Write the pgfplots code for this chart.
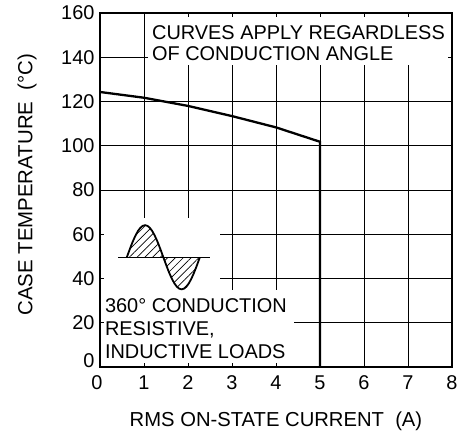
\documentclass[border=0pt]{standalone}
\usepackage{pgfplots}
\pgfplotsset{compat=1.18}
\usepackage{fontspec}
\setmainfont{Liberation Sans}
\usetikzlibrary{patterns.meta}
\pgfdeclarelayer{boxes}
\pgfplotsset{
 layers/mylayers/.define layer set={axis background,axis grid,boxes,axis ticks,axis lines,axis tick labels,main,axis descriptions,axis foreground}{
  grid style={/pgfplots/on layer=axis grid},
  tick style={/pgfplots/on layer=axis ticks},
  axis line style={/pgfplots/on layer=axis lines},
  label style={/pgfplots/on layer=axis descriptions},
  legend style={/pgfplots/on layer=axis descriptions},
  title style={/pgfplots/on layer=axis descriptions},
  colorbar style={/pgfplots/on layer=axis descriptions},
  ticklabel style={/pgfplots/on layer=axis tick labels},
  axis background@ style={/pgfplots/on layer=axis background},
  3d box foreground style={/pgfplots/on layer=axis foreground},
 },
}
\begin{document}
\begin{tikzpicture}
\begin{axis}[
  set layers=mylayers,
  scale only axis, width=352bp, height=354bp,
  xmin=0, xmax=8, ymin=0, ymax=160,
  xtick={1,2,...,8}, ytick={20,40,...,160},
  extra x ticks={0}, extra y ticks={0},
  extra x tick style={xticklabel style={xshift=-3bp}},
  extra y tick style={yticklabel style={yshift=6bp}},
  grid=major, major grid style={black, line width=0.8bp},
  tick align=inside, major tick length=4bp,
  tick style={black, line width=0.8bp},
  axis line style={line width=2.5bp},
  font=\fontsize{20}{22}\selectfont,
  /pgf/number format/assume math mode=true,
  xlabel={RMS ON-STATE CURRENT\ \ (A)},
  ylabel={CASE TEMPERATURE\ \ (°C)},
  xlabel style={at={(axis description cs:0.5,-0.1545)}, anchor=center, font=\fontsize{20.3}{22}\selectfont},
  ylabel style={at={(axis description cs:-0.207,0.515)}, anchor=center, rotate=0, font=\fontsize{20.5}{22}\selectfont},
  yticklabel style={xshift=-2bp},
  xticklabel style={yshift=-5bp},
]
\begin{pgfonlayer}{boxes}
 \fill[white] (axis cs:1.1,136.5) rectangle (axis cs:8,160);
 \fill[white] (axis cs:0.1,35) rectangle (axis cs:2.73,67.3);
 \fill[white] (axis cs:0,0) rectangle (axis cs:4.4,35);
\end{pgfonlayer}
\addplot[black, line width=2.3bp] coordinates {(0,124.3)(1,121.7)(2,118)(3,113.4)(4,108.3)(5,101.8)(5,0)};
\fill[pattern={Lines[angle=45,distance=5.5bp,line width=0.7bp]}] (axis cs:0.61,49.6) sin (axis cs:1.025,64.1) cos (axis cs:1.44,49.6) -- cycle;
\fill[pattern={Lines[angle=45,distance=5.5bp,line width=0.7bp]}] (axis cs:1.44,49.6) sin (axis cs:1.855,35.1) cos (axis cs:2.27,49.6) -- cycle;
\draw[line width=0.9bp] (axis cs:0.41,49.6) -- (axis cs:2.5,49.6);
\draw[line width=1.8bp] (axis cs:0.61,49.6) sin (axis cs:1.025,64.1) cos (axis cs:1.44,49.6) sin (axis cs:1.855,35.1) cos (axis cs:2.27,49.6);
\node[anchor=north west, inner sep=0, align=left, font=\fontsize{20}{21.7}\selectfont] at (axis cs:1.18,154.6) {CURVES APPLY REGARDLESS\\OF CONDUCTION ANGLE};
\node[anchor=north west, inner sep=0, align=left, font=\fontsize{20}{23.3}\selectfont] at (axis cs:0.11,31.05) {360° CONDUCTION\\RESISTIVE,\\INDUCTIVE LOADS};
\end{axis}
\pgfresetboundingbox
\path[use as bounding box] (-100bp,-74bp) rectangle (358bp,367bp);
\end{tikzpicture}
\end{document}
